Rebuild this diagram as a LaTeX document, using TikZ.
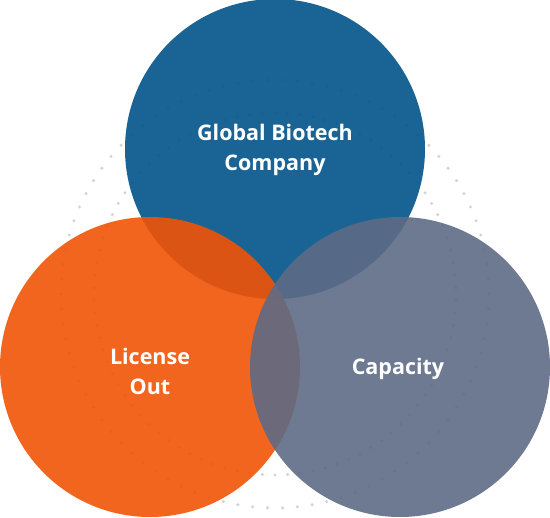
\documentclass[tikz,border=0pt]{standalone}
\usepackage{fontspec}
\setmainfont{Open Sans}
\usetikzlibrary{calc}
\definecolor{bioblue}{RGB}{1,83,138}
\definecolor{bioorange}{RGB}{241,84,5}
\definecolor{biogray}{RGB}{94,107,133}
\definecolor{dotgray}{RGB}{212,212,216}
\tikzset{
  ring/.style={circle, minimum size=300pt, inner sep=0pt, fill opacity=0.9,
    text opacity=1, text=white, align=center,
    font=\fontsize{21.5}{30}\selectfont\bfseries},
  ringdot/.style={fill=dotgray}
}
\begin{document}
\begin{tikzpicture}[x=1pt,y=-1pt]
    \useasboundingbox (0,0) rectangle (550,518);

    % Draw the dotted rings behind
    \coordinate (mid) at (275,294);
    \foreach \a in {0,4,...,356}
        \fill[ringdot] ($(mid)+(\a:214)$) circle (1.7pt);
    \foreach \a in {2,6,...,358}
        \fill[ringdot] ($(mid)+(\a:181)$) circle (1.7pt);

    % Draw the three circles
    \node[ring, fill=bioblue] (global) at (275,149) {};
    \node[ring, fill=bioorange] (license) at (150,367) {};
    \node[ring, fill=biogray] (capacity) at (400,367) {};

    % Labels
    \node[ring, fill=none] (globaltext) at (275,150) {Global Biotech\\Company};
    \node[ring, fill=none] (licensetext) at (150,371) {License\\Out};
    \node[ring, fill=none] (capacitytext) at (398,369) {Capacity};
\end{tikzpicture}
\end{document}
